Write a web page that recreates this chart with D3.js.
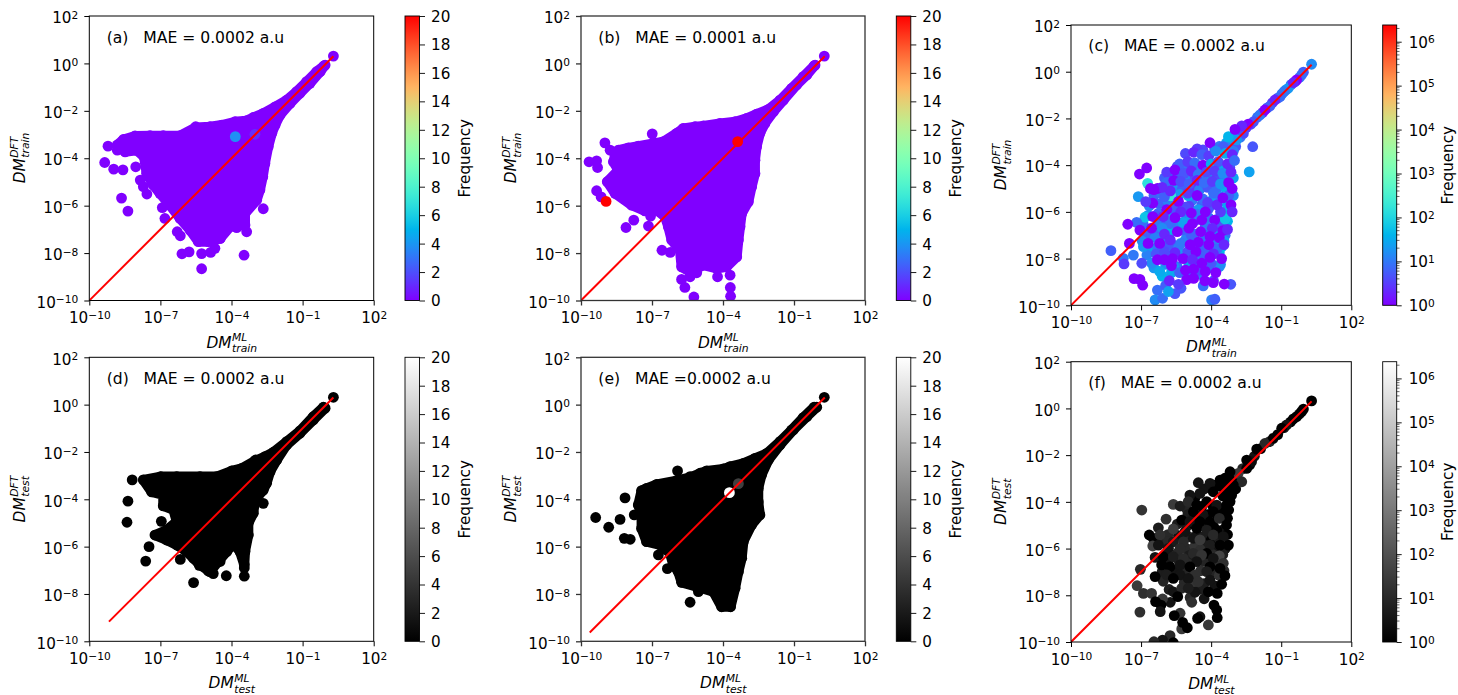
<!DOCTYPE html>
<html>
<head>
<meta charset="utf-8">
<script src="https://cdn.jsdelivr.net/npm/d3@7/dist/d3.min.js"></script>
<style>
  html, body { margin: 0; padding: 0; background: #fff; }
  text { font-family: "DejaVu Sans", sans-serif; fill: #000; white-space: pre; }
</style>
</head>
<body>
<svg id="chart" width="1458" height="695"></svg>
<script>
// all point values are log10(DM); the third column, where present, is the frequency
// dense bodies of (a), (b), (d), (e) are given by their outer points, in order around the body
var coreA = [[-.10,-.10],[-.41,-.35],[-.83,-.77],[-1.25,-1.19],[-1.67,-1.55],[-2.16,-1.83],[-2.66,-2.11],[-3.08,-2.28],[-3.39,-2.42],[-3.85,-2.46],[-4.41,-2.60],[-4.91,-2.67],[-5.51,-2.70],[-6.17,-3.05],[-6.88,-3.05],[-7.44,-3.05],[-8.07,-3.06],[-8.56,-3.21],[-8.82,-3.44],[-8.49,-3.73],[-8.0,-3.66],[-7.69,-3.94],[-7.58,-4.64],[-7.30,-5.13],[-7.02,-5.48],[-6.60,-5.98],[-6.17,-6.54],[-5.75,-7.03],[-5.40,-7.52],[-4.98,-7.52],[-4.48,-7.38],[-4.06,-6.89],[-3.43,-6.82],[-3.43,-6.33],[-2.94,-5.77],[-2.80,-5.34],[-2.68,-4.78],[-2.59,-4.22],[-2.45,-3.51],[-2.30,-2.95],[-2.16,-2.60],[-1.95,-2.18],[-1.53,-1.69],[-1.11,-1.26],[-.69,-.84],[-.26,-.35],[-.05,-.07]];
var outliersA = [[.30,.31],[-9.21,-3.49],[-8.82,-3.66],[-9.35,-4.18],[-8.97,-4.46],[-8.58,-4.49],[-8.04,-4.36],[-7.85,-4.92],[-7.72,-5.20],[-7.57,-5.51],[-8.64,-5.68],[-8.37,-6.23],[-6.92,-6.08],[-6.81,-6.54],[-6.29,-7.10],[-6.16,-7.27],[-6.09,-8.03],[-5.79,-7.95],[-5.26,-8.02],[-5.26,-8.66],[-4.88,-7.97],[-4.70,-7.80],[-3.47,-8.09],[-4.48,-7.38],[-2.66,-6.13],[-3.36,-7.10],[-3.78,-6.93],[-5.51,-2.67]];
var hotA = [[-3.01,-2.99,1.2],[-3.84,-3.09,3.8]];

var coreB = [[-.15,-.10],[-.61,-.56],[-1.10,-1.05],[-1.59,-1.55],[-2.08,-1.94],[-2.58,-2.14],[-3.0,-2.32],[-3.49,-2.46],[-4.13,-2.53],[-4.83,-2.64],[-5.18,-2.67],[-5.68,-2.74],[-5.96,-2.95],[-6.52,-3.30],[-6.94,-3.37],[-7.58,-3.49],[-8.0,-3.56],[-8.42,-3.66],[-8.56,-3.87],[-8.63,-4.15],[-8.42,-4.50],[-8.89,-4.99],[-8.56,-5.48],[-7.86,-5.98],[-7.30,-6.22],[-6.80,-6.19],[-6.45,-6.47],[-6.31,-6.89],[-6.17,-7.45],[-5.82,-7.88],[-5.75,-8.58],[-5.39,-8.79],[-4.83,-8.51],[-4.27,-8.65],[-3.85,-8.58],[-3.42,-8.16],[-3.35,-7.45],[-3.28,-6.89],[-3.21,-6.33],[-2.93,-5.84],[-2.79,-5.20],[-2.65,-4.64],[-2.65,-4.08],[-2.58,-3.51],[-2.44,-2.95],[-2.23,-2.53],[-1.87,-2.04],[-1.45,-1.55],[-.89,-.91],[-.46,-.49],[-.11,-.07]];
var outliersB = [[.28,.31],[-9.66,-4.15],[-9.34,-4.11],[-9.30,-4.39],[-8.99,-3.35],[-8.77,-3.66],[-9.34,-5.37],[-9.15,-5.63],[-6.99,-2.97],[-8.10,-6.92],[-7.77,-6.61],[-7.15,-6.86],[-7.06,-6.44],[-6.58,-7.88],[-6.23,-7.97],[-5.75,-9.11],[-5.61,-9.45],[-5.23,-9.85],[-3.69,-9.45],[-3.68,-9.82],[-4.23,-9.0],[-3.70,-8.93],[-5.39,-9.0],[-5.11,-8.83]];
var hotB = [[-3.38,-3.30,20],[-8.94,-5.82,20]];

var coreD = [[-.12,-.11],[-.55,-.51],[-1.11,-1.11],[-1.67,-1.56],[-2.23,-2.01],[-2.59,-2.20],[-3.01,-2.38],[-3.57,-2.69],[-3.99,-2.80],[-4.63,-3.04],[-5.33,-3.04],[-6.31,-3.04],[-6.99,-3.04],[-7.72,-3.18],[-7.37,-3.69],[-6.88,-3.82],[-6.88,-4.28],[-6.45,-4.45],[-6.31,-4.94],[-6.74,-5.30],[-7.23,-5.51],[-6.74,-5.72],[-6.31,-5.93],[-5.89,-6.21],[-5.61,-6.49],[-5.33,-6.77],[-4.91,-7.06],[-4.56,-6.63],[-4.20,-6.21],[-3.92,-5.86],[-3.64,-6.21],[-3.46,-6.77],[-3.43,-6.21],[-3.29,-5.51],[-3.29,-5.01],[-3.08,-4.59],[-3.01,-4.03],[-2.66,-3.61],[-2.52,-3.32],[-2.37,-2.83],[-2.09,-2.34],[-1.67,-1.70],[-1.11,-1.21],[-.55,-.65],[-.05,-.15]];
var outliersD = [[.30,.31],[-8.19,-3.18],[-8.37,-4.08],[-8.41,-4.97],[-7.48,-6.0],[-7.62,-6.61],[-6.96,-4.93],[-6.16,-6.54],[-5.36,-6.79],[-4.98,-7.03],[-4.77,-7.14],[-4.48,-6.63],[-4.22,-7.23],[-3.46,-7.25],[-3.46,-6.9],[-5.60,-7.52],[-2.66,-4.17],[-2.98,-2.34]];
var hotD = [];

var coreE = [[-.15,-.11],[-.61,-.55],[-1.10,-1.07],[-1.59,-1.56],[-2.15,-2.06],[-2.65,-2.27],[-3.14,-2.48],[-3.70,-2.62],[-3.99,-2.72],[-4.69,-2.80],[-4.97,-2.90],[-5.39,-3.07],[-5.96,-3.21],[-6.80,-3.37],[-7.23,-3.54],[-7.44,-3.63],[-7.58,-4.24],[-7.44,-4.66],[-7.44,-5.23],[-7.23,-5.79],[-6.66,-5.93],[-6.24,-6.28],[-6.10,-6.77],[-5.89,-7.06],[-5.75,-7.51],[-5.11,-7.69],[-4.41,-7.90],[-4.06,-8.54],[-3.68,-8.54],[-3.49,-7.76],[-3.35,-7.06],[-3.21,-6.49],[-3.14,-5.79],[-2.79,-5.08],[-2.44,-4.66],[-2.51,-4.10],[-2.51,-3.54],[-2.37,-2.97],[-2.08,-2.34],[-1.59,-1.70],[-1.03,-1.07],[-.46,-.51],[-.04,-.11]];
var outliersE = [[.28,.31],[-5.92,-2.80],[-8.14,-3.94],[-9.38,-4.77],[-8.83,-5.18],[-8.35,-4.85],[-7.75,-4.66],[-8.17,-5.65],[-7.92,-5.69],[-6.73,-6.35],[-6.35,-6.93],[-5.39,-8.35],[-5.04,-7.90],[-5.39,-3.04]];
var hotE = [[-3.35,-3.34,5],[-3.73,-3.72,20]];

var pointsC = [
  // back layer, mostly bluer
  [-.05,-.02,6],[-.22,-.25,10],[-.4,-.42,3],[-.58,-.55,8],[-.8,-.78,15],[-.97,-.95,12],[-1.15,-1.13,5],[-1.38,-1.33,3],[-1.6,-1.55,6],[-1.8,-1.75,2],[-2.02,-1.95,8],[-2.3,-2.25,4],[-2.5,-2.4,3],[-2.8,-2.55,6],[-2.75,-2.8,10],[-3.05,-2.75,8],[-3.15,-3.05,20],[-3.35,-3.05,25],[-3.65,-3.2,10],[-3.85,-3.3,8],[-2.95,-3.2,5],[-3.05,-3.4,10],[-4.35,-3.35,4],[-4.6,-3.3,3],[-3.3,-3.25,12],
  [-5.45,-4.05,4],[-5.1,-4.1,8],[-4.75,-4.1,5],[-4.4,-4.15,12],[-3.95,-4.1,6],[-3.55,-4.05,30],[-3.2,-4.1,4],
  [-6.0,-4.55,6],[-5.7,-4.45,12],[-5.4,-4.5,5],[-5.05,-4.55,15],[-4.7,-4.45,4],[-4.4,-4.55,6],[-4.05,-4.45,20],[-3.75,-4.55,4],[-3.35,-4.5,8],[-3.05,-4.55,25],
  [-6.05,-5.0,10],[-5.6,-4.95,20],[-5.25,-5.05,6],[-4.85,-4.95,3],[-4.5,-5.05,12],[-4.15,-4.95,5],[-3.75,-5.0,8],[-3.4,-4.95,30],[-3.05,-5.3,15],
  [-6.45,-5.3,6],[-6.15,-5.2,8],[-5.35,-5.25,20],[-4.8,-5.5,10],[-4.4,-5.7,6],[-3.95,-5.5,25],[-3.6,-5.35,12],[-3.25,-5.3,6],
  [-6.65,-5.75,15],[-6.2,-5.65,6],[-5.85,-5.55,12],[-5.35,-5.85,8],[-4.95,-5.75,3],[-4.55,-5.9,20],[-4.1,-5.85,5],[-3.45,-6.05,30],
  [-6.7,-6.15,20],[-6.25,-6.05,8],[-5.85,-6.15,25],[-5.45,-6.05,6],[-5.05,-6.2,12],[-4.65,-6.35,5],[-4.1,-6.25,8],[-3.7,-6.3,15],[-3.3,-6.4,40],
  [-6.9,-6.55,8],[-6.25,-6.45,10],[-5.9,-6.5,5],[-5.5,-6.55,12],[-5.0,-6.45,20],[-4.25,-6.6,10],[-3.6,-6.6,5],
  [-6.85,-6.95,6],[-6.2,-6.85,8],[-5.75,-6.85,40],[-5.2,-6.8,6],[-4.7,-6.95,10],[-4.25,-7.0,6],[-3.85,-6.95,20],[-3.4,-7.0,8],
  [-6.95,-7.25,15],[-6.55,-7.05,6],[-6.1,-7.2,20],[-5.65,-7.4,6],[-5.1,-7.2,12],[-4.7,-7.25,5],[-4.3,-7.25,8],[-3.8,-7.3,10],[-3.55,-7.5,30],
  [-6.65,-7.6,25],[-6.3,-7.5,10],[-5.85,-7.5,5],[-5.4,-7.55,12],[-4.85,-7.6,8],[-4.45,-7.6,6],[-4.05,-7.6,6],[-3.65,-7.75,40],
  [-6.75,-7.85,12],[-6.35,-7.8,5],[-5.8,-7.85,15],[-5.25,-7.85,20],[-4.55,-7.95,10],[-4.15,-8.05,12],[-3.6,-8.25,15],
  [-6.45,-8.4,20],[-5.95,-8.25,15],[-5.45,-8.35,8],[-4.95,-8.25,25],[-4.6,-8.3,8],[-4.1,-8.4,8],
  [-6.1,-8.75,40],[-5.7,-8.6,30],[-4.95,-8.65,6],[-4.4,-8.7,10],[-6.3,-9.35,8],[-5.95,-9.15,6],[-5.55,-9.5,5],
  // marks read one by one
  [.30,.32,15],[-.13,-.14,8],[-.70,-.71,20],[-.88,-.85,10],[-1.05,-1.07,8],[-1.48,-1.47,6],[-1.91,-1.85,10],[-2.19,-2.14,5],[-2.62,-2.64,4],[-2.91,-2.92,20],[-3.26,-2.78,40],[-3.48,-3.21,6],[-2.22,-3.21,5],[-2.37,-4.29,25],
  [-.34,-.35,1],[-.48,-.47,2],[-1.27,-1.21,2],[-1.70,-1.64,1],[-2.41,-2.24,1],[-2.69,-2.32,2],[-2.98,-2.47,1],[-4.05,-3.04,1],
  [-5.1,-3.5,4],[-4.75,-3.45,2],[-4.4,-3.55,6],[-4.1,-3.6,3],[-3.8,-3.4,15],[-3.4,-3.5,30],[-3.1,-3.55,2],
  [-5.35,-3.95,6],[-5.0,-3.85,3],[-4.7,-3.9,8],[-4.35,-4.0,1],[-4.0,-3.95,30],[-3.7,-3.85,5],[-3.3,-3.95,2],[-3.0,-3.8,8],
  [-5.9,-4.3,3],[-5.55,-4.2,1],[-5.15,-4.35,5],[-4.85,-4.25,2],[-4.55,-4.4,10],[-4.2,-4.3,4],[-3.85,-4.25,3],[-3.5,-4.35,15],[-3.15,-4.3,2],
  [-5.9,-4.75,8],[-5.6,-4.65,1],[-5.3,-4.7,4],[-4.95,-4.8,6],[-4.6,-4.65,2],[-4.3,-4.75,8],[-3.95,-4.7,3],[-3.6,-4.8,20],[-3.25,-4.75,1],
  [-6.72,-4.78,150],[-5.73,-5.31,200],[-4.98,-5.31,30],[-7.12,-5.35,20],[-3.31,-5.71,30],[-6.83,-6.23,60],[-7.19,-6.45,8],[-3.4,-6.3,60],[-3.45,-7.25,25],[-6.9,-7.49,20],[-7.33,-7.85,10],[-7.76,-7.99,10],[-8.29,-7.66,6],[-6.4,-9.77,15],[-6.08,-9.7,8],[-5.83,-9.41,25],[-5.29,-9.27,5],[-4.34,-9.17,8],[-3.16,-9.1,5],[-3.98,-9.77,12],[-3.84,-9.74,6],[-6.2,-8.55,30],[-6.55,-8.2,15],[-5.6,-8.35,20],[-3.65,-8.35,15],
  [-4.6,-6.1,10],[-5.75,-6.5,8],[-5.2,-6.45,25],[-6.1,-6.7,15],[-5.3,-7.35,10],[-6.4,-7.1,12],[-4.85,-7.0,6],[-5.6,-5.85,5],[-6.0,-5.35,6],[-4.35,-5.45,8],[-3.9,-5.2,8],[-3.6,-6.0,3],[-5.1,-5.8,4],[-6.35,-6.15,5],[-6.0,-7.7,4],[-5.0,-7.7,4],[-4.3,-7.85,6],[-3.75,-7.6,8],[-5.35,-8.6,6],[-4.5,-8.5,4],[-4.0,-8.2,5],[-6.97,-8.2,4],[-7.73,-8.23,3],[-3.9,-8.95,4],
  [-5.0,-5.2,3],[-4.6,-5.3,1],[-4.15,-5.6,3],[-3.75,-5.7,2],[-3.5,-5.4,1],[-3.1,-5.0,1],[-3.15,-5.7,1],[-3.1,-6.0,2],[-5.4,-5.55,1],[-5.75,-5.1,2],[-6.5,-5.63,1],[-6.8,-5.56,3],[-6.6,-5.0,1],[-6.3,-5.0,1],[-6.1,-4.95,2],
  [-5.9,-5.9,1],[-5.3,-6.0,2],[-4.85,-6.05,1],[-4.25,-6.0,1],[-3.85,-6.35,1],[-6.5,-6.2,1],[-6.05,-6.2,2],[-5.55,-6.25,1],[-4.8,-6.5,1],[-4.4,-6.35,1],[-3.95,-6.7,2],[-3.5,-6.8,1],[-3.3,-6.75,2],
  [-7.57,-6.53,1],[-7.05,-6.78,1],[-6.55,-6.7,1],[-6.0,-6.95,2],[-5.45,-6.85,1],[-4.95,-6.7,1],[-4.45,-6.85,1],[-4.05,-7.05,1],[-3.65,-7.1,1],[-6.7,-7.35,1],[-6.2,-7.35,1],[-5.75,-7.2,2],[-4.9,-7.4,1],[-4.55,-7.3,1],[-4.1,-7.4,1],[-3.45,-7.4,2],[-7.5,-7.35,1],
  [-5.55,-7.75,2],[-4.65,-7.7,1],[-3.9,-7.8,2],[-6.3,-8.05,1],[-6.0,-8.05,1],[-5.65,-8.0,1],[-5.2,-8.0,1],[-4.8,-8.05,2],[-4.4,-8.2,1],[-4.05,-7.95,1],[-3.55,-8.0,1],
  [-5.7,-8.3,1],[-5.1,-8.5,1],[-4.75,-8.45,1],[-4.25,-8.55,1],[-3.8,-8.6,1],[-5.79,-8.95,2],[-5.05,-8.9,1],[-4.75,-8.85,1],[-5.4,-9.1,3],[-7.3,-8.86,1],[-7.05,-8.89,1],[-6.93,-9.14,1],[-4.27,-8.95,1],[-3.91,-9.03,1],[-3.44,-9.09,1],
  [-6.45,-5.05,1],[-7.07,-4.38,1],[-6.76,-4.12,1]
];

var pointsF = [
  // back layer
  [-.05,-.03,1],[-.22,-.24,2],[-.6,-.58,1],[-.88,-.82,5],[-1.15,-1.12,1],[-1.5,-1.42,8],[-1.88,-1.72,1],[-2.15,-2.05,3],[-2.35,-2.42,1],[-2.65,-2.58,10],[-2.95,-2.95,1],[-3.3,-3.25,5],[-3.55,-3.35,1],[-3.85,-3.3,1],[-4.3,-3.45,3],[-3.5,-3.75,1],[-2.95,-3.45,1],
  [-5.05,-4.3,8],[-4.7,-3.85,1],[-4.4,-4.2,1],[-3.95,-4.15,1],[-3.55,-4.3,1],[-3.25,-4.35,1],
  [-5.0,-4.55,5],[-4.6,-4.6,3],[-4.15,-4.55,1],[-3.75,-4.55,1],[-3.3,-4.7,1],
  [-5.45,-4.95,5],[-5.05,-5.05,5],[-4.75,-4.95,1],[-4.3,-5.05,3],[-3.9,-5.05,1],[-3.5,-5.2,3],[-3.3,-5.4,1],
  [-5.85,-5.4,10],[-5.4,-5.45,3],[-4.95,-5.5,8],[-4.6,-5.4,3],[-4.3,-5.5,5],[-4.0,-5.65,1],[-3.65,-5.6,5],
  [-6.05,-5.75,5],[-5.85,-5.7,10],[-5.05,-6.0,10],[-4.7,-5.9,20],[-4.3,-5.85,5],[-3.85,-6.05,3],[-3.4,-6.0,3],
  [-5.9,-6.2,5],[-5.45,-6.2,10],[-4.95,-6.3,5],[-4.45,-6.05,15],[-3.95,-6.25,10],[-3.5,-6.25,5],
  [-5.85,-6.55,3],[-5.4,-6.5,8],[-5.0,-6.65,10],[-4.3,-6.55,8],[-3.8,-6.65,15],[-3.45,-6.95,10],
  [-6.1,-7.0,5],[-5.6,-6.95,3],[-5.1,-6.95,8],[-4.85,-7.1,10],[-4.45,-6.95,15],[-3.95,-7.0,8],[-3.65,-7.15,20],
  [-6.05,-7.4,8],[-5.15,-7.45,10],[-4.8,-7.5,20],[-4.3,-7.5,5],[-3.85,-7.6,3],
  [-5.8,-7.75,5],[-4.45,-7.75,5],[-4.9,-8.1,10],[-4.3,-8.15,3],[-5.75,-8.3,3],
  // marks read one by one
  [.30,.32,1],[-.13,-.14,1],[-.34,-.35,1],[-.48,-.45,1],[-.77,-.71,3],[-.98,-.85,1],[-1.34,-1.28,1],[-1.70,-1.50,10],[-2.05,-1.74,1],[-2.27,-2.28,2],[-2.48,-2.21,1],[-2.48,-2.57,1],[-2.84,-2.78,30],[-3.19,-2.71,1],[-2.69,-3.14,10],[-3.05,-3.28,1],[-3.19,-3.14,1],[-3.41,-2.99,1],[-3.62,-3.07,1],[-4.05,-3.21,3],[-4.55,-3.18,3],[-3.91,-3.57,1],[-4.48,-3.64,3],[-4.91,-3.71,3],[-3.34,-3.57,1],[-3.12,-3.71,1],
  [-5.62,-4.11,30],[-5.33,-4.18,5],[-4.98,-3.99,10],[-4.62,-4.14,1],[-4.19,-3.99,1],[-3.76,-4.14,3],[-3.34,-4.14,1],[-3.19,-3.99,1],[-4.76,-4.42,1],[-4.34,-4.56,3],[-3.91,-4.42,1],[-3.48,-4.56,1],[-6.97,-4.35,20],
  [-5.93,-4.74,15],[-5.26,-4.78,1],[-4.91,-4.85,3],[-4.48,-4.85,1],[-4.05,-4.85,1],[-3.65,-4.71,10],[-3.34,-4.99,1],[-6.26,-5.11,5],[-5.62,-5.16,30],[-5.12,-5.28,3],[-4.62,-5.13,1],[-4.19,-5.21,5],[-3.76,-5.21,1],
  [-6.65,-5.42,1],[-6.48,-5.56,1],[-6.19,-5.42,15],[-5.62,-5.71,5],[-5.19,-5.71,10],[-4.76,-5.56,3],[-4.48,-5.63,30],[-3.91,-5.42,10],[-3.48,-5.49,3],[-3.26,-5.85,1],[-6.50,-5.89,40],[-6.26,-5.85,3],[-5.83,-5.99,3],[-5.33,-5.99,10],[-4.05,-5.85,5],[-3.62,-5.85,1],
  [-6.40,-6.38,3],[-6.05,-6.35,1],[-5.62,-6.35,5],[-5.19,-6.42,10],[-4.76,-6.21,10],[-4.19,-6.21,1],[-3.65,-6.31,50],[-4.41,-6.28,20],[-4.62,-6.56,3],[-3.91,-6.42,3],[-3.48,-6.63,15],[-6.12,-6.70,1],[-5.76,-6.78,1],[-5.33,-6.70,3],[-4.91,-6.78,1],[-4.05,-6.78,1],
  [-7.03,-6.89,10],[-6.40,-7.20,1],[-5.90,-7.13,5],[-5.33,-7.13,3],[-4.69,-7.13,15],[-4.19,-6.99,5],[-3.41,-7.16,1],[-3.62,-6.85,1],[-5.62,-7.28,1],[-4.98,-7.28,3],[-4.55,-7.42,15],[-4.05,-7.35,3],[-3.55,-7.53,1],
  [-7.17,-7.59,30],[-6.90,-7.92,15],[-6.55,-7.92,20],[-5.62,-7.85,3],[-4.69,-7.87,3],[-5.26,-7.70,10],[-4.98,-7.70,5],[-4.12,-7.85,1],[-3.74,-7.92,1],[-6.08,-8.16,25],[-5.43,-8.06,1],[-6.38,-8.27,1],[-4.83,-8.30,15],
  [-6.15,-8.42,1],[-6.18,-8.70,3],[-7.05,-8.72,15],[-3.88,-8.42,1],[-3.76,-8.63,1],[-5.33,-8.77,20],[-5.58,-8.87,1],[-4.48,-8.92,3],[-4.58,-8.99,1],[-3.74,-8.96,1],[-5.26,-9.44,30],[-5.22,-9.16,1],[-4.12,-9.27,25],[-5.02,-9.39,1],
  [-5.76,-9.73,10],[-6.08,-9.92,3],[-6.45,-9.99,10],[-5.62,-10.03,1]
];

var xTicks = [-10, -7, -4, -1, 2];
var yTicks = [-10, -8, -6, -4, -2, 0, 2];
var freqTicks = [0, 2, 4, 6, 8, 10, 12, 14, 16, 18, 20];
var freqLogTicks = [0, 1, 2, 3, 4, 5, 6];
var freqLogMax = 2.4e6;

var R = 5.4;
var svg = d3.select('#chart');

function rainbow(t) {
  return d3.rgb(255 * Math.abs(2 * t - 0.5), 255 * Math.sin(Math.PI * t), 255 * Math.cos(Math.PI * t / 2)).formatRgb();
}
function gray(t) {
  var v = 255 * t;
  return d3.rgb(v, v, v).formatRgb();
}

// "10" with a raised exponent, as real text
function powerLabel(sel, e) {
  sel.text(null);
  sel.append('tspan').text('10');
  sel.append('tspan').attr('dy', '-0.42em').style('font-size', '70%')
    .text(String(e).replace('-', '\u2212'));
}

function axisLabel(g, sup, sub) {
  var size = 15.4;
  var dm = g.append('text').attr('font-style', 'italic').attr('font-size', size).text('DM');
  var w = dm.node().getComputedTextLength();
  var a = g.append('text').attr('x', w + 0.5).attr('y', -6.5).attr('font-style', 'italic').attr('font-size', size * 0.7).text(sup);
  var b = g.append('text').attr('x', w + 0.5).attr('y', 4.5).attr('font-style', 'italic').attr('font-size', size * 0.7).text(sub);
  var total = w + Math.max(a.node().getComputedTextLength(), b.node().getComputedTextLength());
  g.selectAll('text').attr('transform', 'translate(' + (-total / 2) + ',0)');
}

function drawPanel(p, i) {
  var x = d3.scaleLog().domain([1e-10, 1e2]).range([p.left, p.right]);
  var y = d3.scaleLog().domain([1e-10, 1e2]).range([p.bottom, p.top]);
  var px = function(d) { return x(Math.pow(10, d[0])); };
  var py = function(d) { return y(Math.pow(10, d[1])); };

  var cmap = p.cmap;
  var colorT = p.log
    ? d3.scaleLog().domain([1, freqLogMax]).range([0, 1])
    : d3.scaleLinear().domain([0, 20]).range([0, 1]);

  var clipId = 'clip-' + p.id;
  svg.append('clipPath').attr('id', clipId).append('rect')
    .attr('x', p.left).attr('y', p.top)
    .attr('width', p.right - p.left).attr('height', p.bottom - p.top);

  var plot = svg.append('g').attr('clip-path', 'url(#' + clipId + ')');

  if (p.core) {
    var line = d3.line().x(px).y(py).curve(d3.curveLinearClosed);
    plot.append('path').attr('d', line(p.core))
      .attr('fill', cmap(0)).attr('stroke', cmap(0))
      .attr('stroke-width', 10).attr('stroke-linejoin', 'round');
    plot.selectAll('circle.core').data(p.core.concat(p.outliers)).enter().append('circle')
      .attr('class', 'core').attr('cx', px).attr('cy', py).attr('r', R).attr('fill', cmap(0));
  }
  plot.selectAll('circle.pt').data(p.points).enter().append('circle')
    .attr('class', 'pt').attr('cx', px).attr('cy', py).attr('r', R)
    .attr('fill', function(d) { return cmap(colorT(d[2])); });

  // x = y reference line
  plot.append('path')
    .attr('d', d3.line().x(px).y(py)([[p.lineStart, p.lineStart], [0.3, 0.3]]))
    .attr('stroke', '#ff0000').attr('stroke-width', 2).attr('fill', 'none');

  // axes
  var xAxis = d3.axisBottom(x).tickValues(xTicks.map(function(e) { return Math.pow(10, e); })).tickSize(5).tickPadding(7);
  var gx = svg.append('g').attr('transform', 'translate(0,' + p.bottom + ')').call(xAxis);
  var yAxis = d3.axisLeft(y).tickValues(yTicks.map(function(e) { return Math.pow(10, e); })).tickSize(5).tickPadding(6);
  var gy = svg.append('g').attr('transform', 'translate(' + p.left + ',0)').call(yAxis);
  [gx, gy].forEach(function(g) {
    g.attr('font-family', null).attr('font-size', null);
    g.select('.domain').remove();
    g.selectAll('line').attr('stroke', p.spine).attr('stroke-width', p.spineW);
    g.selectAll('text').attr('font-size', 15.2);
  });
  gx.selectAll('.tick text').data(xTicks).each(function(e) { powerLabel(d3.select(this), e); }).attr('dy', '0.71em');
  gy.selectAll('.tick text').data(yTicks).each(function(e) { powerLabel(d3.select(this), e); }).attr('dy', '0.44em');

  svg.append('rect')
    .attr('x', p.left).attr('y', p.top)
    .attr('width', p.right - p.left).attr('height', p.bottom - p.top)
    .attr('fill', 'none').attr('stroke', p.spine).attr('stroke-width', p.spineW);

  svg.append('text').attr('x', p.noteX).attr('y', p.noteY).attr('font-size', 15.6).text(p.note);

  var xl = svg.append('g').attr('transform', 'translate(' + ((p.left + p.right) / 2) + ',' + (p.bottom + 47) + ')');
  axisLabel(xl, 'ML', p.sub);
  var yl = svg.append('g').attr('transform', 'translate(' + p.ylabelX + ',' + ((p.top + p.bottom) / 2) + ') rotate(-90)');
  axisLabel(yl, 'DFT', p.sub);

  // colour bar
  var gradId = 'grad-' + p.id;
  var grad = svg.append('linearGradient').attr('id', gradId)
    .attr('x1', 0).attr('y1', 1).attr('x2', 0).attr('y2', 0);
  d3.range(0, 65).forEach(function(k) {
    grad.append('stop').attr('offset', k / 64).attr('stop-color', cmap(k / 64));
  });
  svg.append('rect')
    .attr('x', p.barX).attr('y', p.top)
    .attr('width', p.barW).attr('height', p.bottom - p.top)
    .attr('fill', 'url(#' + gradId + ')').attr('stroke', '#000').attr('stroke-width', 0.9);

  var barRight = p.barX + p.barW;
  if (p.log) {
    var c = d3.scaleLog().domain([1, freqLogMax]).range([p.bottom, p.top]);
    var gc = svg.append('g').attr('transform', 'translate(' + barRight + ',0)')
      .call(d3.axisRight(c).tickValues(freqLogTicks.map(function(e) { return Math.pow(10, e); })).tickSize(5).tickPadding(7));
    gc.attr('font-family', null).attr('font-size', null);
    gc.select('.domain').remove();
    gc.selectAll('line').attr('stroke', '#000').attr('stroke-width', 0.9);
    gc.selectAll('.tick text').data(freqLogTicks).attr('font-size', 15.2)
      .each(function(e) { powerLabel(d3.select(this), e); }).attr('dy', '0.36em');
    var minor = [];
    d3.range(0, 7).forEach(function(e) {
      d3.range(2, 10).forEach(function(m) {
        var v = m * Math.pow(10, e);
        if (v <= freqLogMax) minor.push(v);
      });
    });
    svg.selectAll('line.minor' + p.id).data(minor).enter().append('line')
      .attr('x1', barRight).attr('x2', barRight + 2.8)
      .attr('y1', c).attr('y2', c)
      .attr('stroke', '#000').attr('stroke-width', 0.6);
  } else {
    var c2 = d3.scaleLinear().domain([0, 20]).range([p.bottom, p.top]);
    var gc2 = svg.append('g').attr('transform', 'translate(' + barRight + ',0)')
      .call(d3.axisRight(c2).tickValues(freqTicks).tickSize(5.5).tickPadding(6));
    gc2.attr('font-family', null).attr('font-size', null);
    gc2.select('.domain').remove();
    gc2.selectAll('line').attr('stroke', '#000').attr('stroke-width', 0.9);
    gc2.selectAll('text').attr('font-size', 15.2).attr('dy', '0.36em');
  }
  svg.append('text')
    .attr('transform', 'translate(' + p.freqX + ',' + ((p.top + p.bottom) / 2) + ') rotate(-90)')
    .attr('text-anchor', 'middle').attr('font-size', 15.2).text('Frequency');
}

var panels = [
  {id: 'a', left: 89.3, right: 373.7, top: 16, bottom: 300.5, barX: 405, barW: 14.5, freqX: 470, ylabelX: 24.5, noteX: 106.7, noteY: 42.7, note: '(a)   MAE = 0.0002 a.u', sub: 'train', cmap: rainbow, lineStart: -10, core: coreA, outliers: outliersA, points: hotA, spine: '#000', spineW: 1},
  {id: 'b', left: 581, right: 865, top: 16, bottom: 300.5, barX: 896.3, barW: 14.5, freqX: 961, ylabelX: 516, noteX: 598.3, noteY: 42.7, note: '(b)   MAE = 0.0001 a.u', sub: 'train', cmap: rainbow, lineStart: -10, core: coreB, outliers: outliersB, points: hotB, spine: '#333', spineW: 1.3},
  {id: 'c', left: 1071, right: 1351.3, top: 25, bottom: 305.3, barX: 1382.7, barW: 14, log: true, freqX: 1453, ylabelX: 1006, noteX: 1088.3, noteY: 51, note: '(c)   MAE = 0.0002 a.u', sub: 'train', cmap: rainbow, lineStart: -10, points: pointsC, spine: '#000', spineW: 1},
  {id: 'd', left: 89.3, right: 373.7, top: 357.3, bottom: 641.3, barX: 405, barW: 14.5, freqX: 470, ylabelX: 24.5, noteX: 106.7, noteY: 384.3, note: '(d)   MAE = 0.0002 a.u', sub: 'test', cmap: gray, lineStart: -9.17, core: coreD, outliers: outliersD, points: hotD, spine: '#000', spineW: 1},
  {id: 'e', left: 581, right: 865, top: 357.3, bottom: 641.3, barX: 896.3, barW: 14.5, freqX: 961, ylabelX: 516, noteX: 598.3, noteY: 384.3, note: '(e)   MAE =0.0002 a.u', sub: 'test', cmap: gray, lineStart: -9.63, core: coreE, outliers: outliersE, points: hotE, spine: '#333', spineW: 1.3},
  {id: 'f', left: 1071, right: 1351.3, top: 361.7, bottom: 642, barX: 1382.7, barW: 14, log: true, freqX: 1453, ylabelX: 1006, noteX: 1088.3, noteY: 388.3, note: '(f)   MAE = 0.0002 a.u', sub: 'test', cmap: gray, lineStart: -10, points: pointsF, spine: '#000', spineW: 1}
];

panels.forEach(drawPanel);
</script>
</body>
</html>
